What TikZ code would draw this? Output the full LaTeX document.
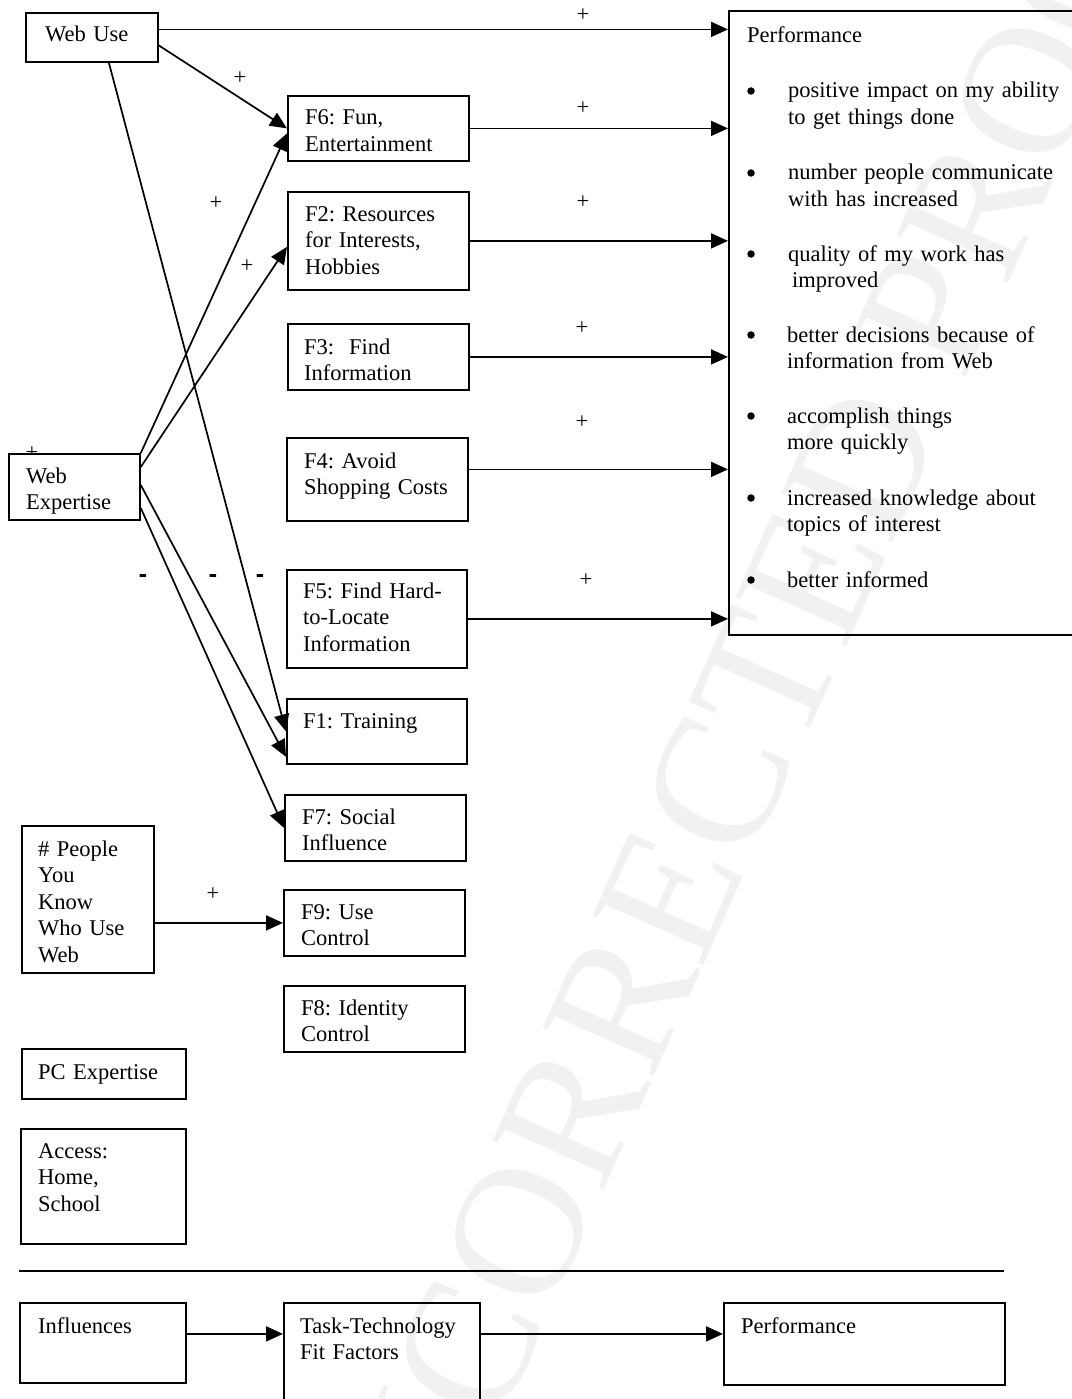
\documentclass[tikz,border=0pt]{standalone}
\usepackage{fontspec}
\setmainfont{Liberation Serif}
\usetikzlibrary{arrows.meta}
\newcommand\myfs{\fontsize{22.5}{26.5}\selectfont}
\definecolor{wmgray}{RGB}{241,241,241}
\frenchspacing
\begin{document}
\begin{tikzpicture}[x=1pt,y=-1pt,
  box/.style={draw, line width=1.8pt, anchor=north west, inner sep=0pt},
  txt/.style={anchor=base west, inner sep=0pt, align=left, text width=330pt, font=\myfs},
  sgn/.style={inner sep=0pt, font=\myfs},
  bul/.style={circle, fill, inner sep=0pt, minimum size=7.5pt},
  arr/.style={line width=1.7pt, -{Triangle[length=17pt,width=15pt]}},
  ln/.style={line width=1.7pt}]
\useasboundingbox (0,0) rectangle (1071,1399);

% watermark
\node[rotate=66, inner sep=0pt, text=wmgray, font=\fontsize{185}{185}\selectfont] (wmk) at (742,732) {UNCORRECTED PROOF};

% boxes
\node[box, minimum width=132pt, minimum height=49pt] (wu) at (25,12) {};
\node[box, minimum width=360pt, minimum height=624pt] (perf) at (728,10) {};
\node[box, minimum width=181pt, minimum height=65pt] (f6) at (287,95) {};
\node[box, minimum width=181pt, minimum height=98pt] (f2) at (287,191) {};
\node[box, minimum width=181pt, minimum height=66pt] (f3) at (287,323) {};
\node[box, minimum width=181pt, minimum height=83pt] (f4) at (286,437) {};
\node[box, minimum width=180pt, minimum height=98pt] (f5) at (286,569) {};
\node[box, minimum width=180pt, minimum height=65pt] (f1) at (286,698) {};
\node[box, minimum width=181pt, minimum height=66pt] (f7) at (284,794) {};
\node[box, minimum width=181pt, minimum height=66pt] (f9) at (283,889) {};
\node[box, minimum width=181pt, minimum height=66pt] (f8) at (283,985) {};
\node[sgn] (phid) at (32,453) {+};
\node[box, fill=white, minimum width=131pt, minimum height=66pt] (we) at (8,453) {};
\node[box, minimum width=132pt, minimum height=147pt] (ppl) at (21,825) {};
\node[box, minimum width=164pt, minimum height=50pt] (pc) at (21,1048) {};
\node[box, minimum width=165pt, minimum height=115pt] (acc) at (20,1128) {};
\node[box, minimum width=166pt, minimum height=80pt] (infl) at (19,1302) {};
\node[box, minimum width=196pt, minimum height=110pt] (ttf) at (283,1302) {};
\node[box, minimum width=281pt, minimum height=82pt] (perf2) at (723,1302) {};

% texts
\node[txt] (twu) at (45,42) {Web Use};
\node[txt] (tperf) at (747,43) {Performance};
\foreach \n/\yy in {1/91,2/173,3/254,4/335,5/416,6/498,7/580}
  \node[bul] (bul\n) at (751,\yy) {};
\node[txt] (i1) at (788,98) {positive impact on my ability\\to get things done};
\node[txt] (i2) at (788,180) {number people communicate\\with has increased};
\node[txt] (i3) at (788,261) {quality of my work has\\\hspace*{4pt}improved};
\node[txt] (i4) at (787,342) {better decisions because of\\information from Web};
\node[txt] (i5) at (787,423) {accomplish things\\more quickly};
\node[txt] (i6) at (787,505) {increased knowledge about\\topics of interest};
\node[txt] (i7) at (787,587) {better informed};

\node[txt] (tf6) at (305,125) {F6: Fun,\\Entertainment};
\node[txt] (tf2) at (305,221) {F2: Resources\\for Interests,\\Hobbies};
\node[txt] (tf3) at (304,354) {F3: \ Find\\Information};
\node[txt] (tf4) at (304,468) {F4: Avoid\\Shopping Costs};
\node[txt] (tf5) at (303,598) {F5: Find Hard-\\to-Locate\\Information};
\node[txt] (tf1) at (303,728) {F1: Training};
\node[txt] (tf7) at (302,824) {F7: Social\\Influence};
\node[txt] (tf9) at (301,919) {F9: Use\\Control};
\node[txt] (tf8) at (301,1015) {F8: Identity\\Control};
\node[txt] (twe) at (26,483) {Web\\Expertise};
\node[txt] (tppl) at (38,856) {\# People\\You\\Know\\Who Use\\Web};
\node[txt] (tpc) at (38,1079) {PC Expertise};
\node[txt] (tacc) at (38,1158) {Access:\\Home,\\School};
\node[txt] (tinfl) at (38,1333) {Influences};
\node[txt] (tttf) at (300,1333) {Task-Technology\\Fit Factors};
\node[txt] (tperf2) at (741,1333) {Performance};

% signs
\node[sgn] (s1) at (583,15) {+};
\node[sgn] (s2) at (240,78) {+};
\node[sgn] (s3) at (583,108) {+};
\node[sgn] (s4) at (216,203) {+};
\node[sgn] (s5) at (583,202) {+};
\node[sgn] (s6) at (247,266) {+};
\node[sgn] (s7) at (582,328) {+};
\node[sgn] (s8) at (582,422) {+};
\node[sgn] (s9) at (586,580) {+};
\node[sgn] (s10) at (213,894) {+};
\node[sgn] (m1) at (143,579) {\scalebox{1.1}[1.6]{\textbf{-}}};
\node[sgn] (m2) at (213,579) {\scalebox{1.1}[1.6]{\textbf{-}}};
\node[sgn] (m3) at (260,579) {\scalebox{1.1}[1.6]{\textbf{-}}};

% connectors
\coordinate (c1) at ([yshift=8pt]wu.east);
\draw[arr] (c1) -- (c1 -| perf.west);
\draw[arr] ([yshift=-8pt]wu.east) -- (f6.west);
\draw[arr] ([xshift=17pt]wu.south) -- (f1.west);
\draw[arr] (we.north east) -- ([yshift=-5pt]f6.west);
\draw[arr] ([yshift=-14pt]we.north east) -- ([yshift=-6pt]f2.west);
\draw[arr] ([yshift=-32pt]we.north east) -- ([yshift=8pt]f1.south west);
\draw[arr] ([yshift=-55pt]we.north east) -- (f7.west);

\draw[arr] (f6.east) -- (f6.east -| perf.west);
\draw[arr] (f2.east) -- (f2.east -| perf.west);
\draw[arr] (f3.east) -- (f3.east -| perf.west);
\coordinate (c4) at ([yshift=10pt]f4.east);
\draw[arr] (c4) -- (c4 -| perf.west);
\draw[arr] (f5.east) -- (f5.east -| perf.west);

\draw[arr] (f9.west -| ppl.east) -- (f9.west);

\coordinate (sepL) at (19,1271);
\coordinate (sepR) at (1004,1271);
\draw[ln] (sepL) -- (sepR);

\coordinate (c14) at ([yshift=9pt]infl.east);
\draw[arr] (c14) -- (c14 -| ttf.west);
\draw[arr] (c14 -| ttf.east) -- (c14 -| perf2.west);
\end{tikzpicture}
\end{document}
